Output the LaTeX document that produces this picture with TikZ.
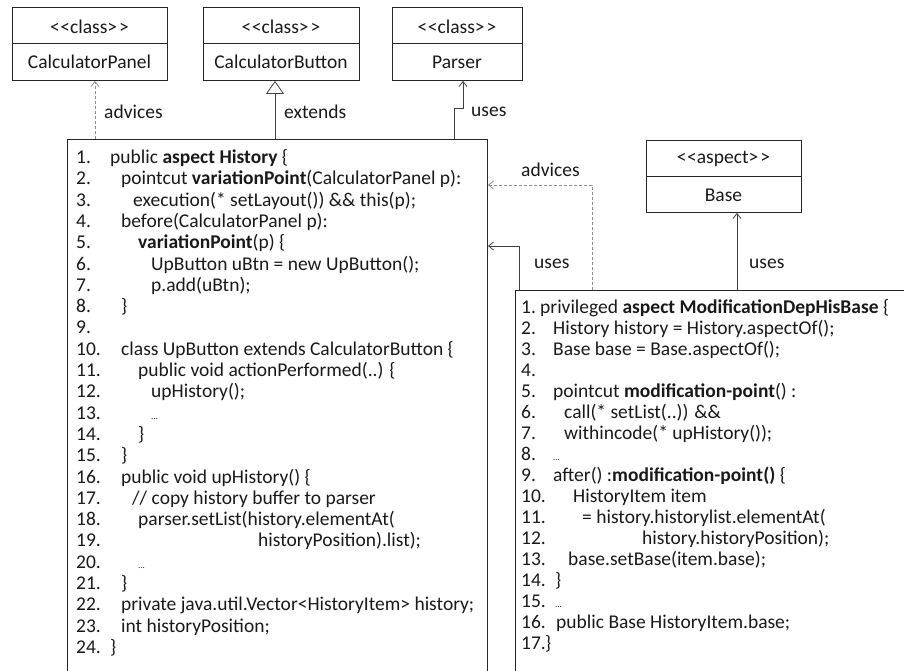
\documentclass[tikz,border=0pt]{standalone}
\usepackage{fontspec}
\setmainfont{Carlito}
\usetikzlibrary{arrows.meta}
\newcommand\cdL[3]{\node[code] (lt#1) at (#2,{163.5+(#1-1)*21.3}) {#3};}
\newcommand\cdLn[1]{\node[code] (ln#1) at (76,{163.5+(#1-1)*21.3}) {#1.};}
\newcommand\cdR[3]{\node[code] (rt#1) at (#2,{313.5+(#1-1)*21}) {#3};}
\newcommand\cdRn[1]{\node[code] (rn#1) at (521,{313.5+(#1-1)*21}) {#1.};}
\newcommand\stereo[1]{<\kern0.5pt<#1>\kern2pt>}
\begin{document}
\begin{tikzpicture}[x=1pt,y=-1pt,
  every node/.style={font=\fontsize{19.5}{22}\selectfont, inner sep=0pt, text=black!90},
  code/.style={anchor=base west},
  box/.style={draw=black!85, line width=0.9pt},
  dep/.style={draw=black!45, dashed, dash pattern=on 3pt off 2pt, line width=0.8pt, -{Straight Barb[length=5pt,width=8pt]}},
  use/.style={draw=black!75, line width=0.8pt, -{Straight Barb[length=5pt,width=8pt]}},
  ext/.style={draw=black!75, line width=0.8pt, -{Triangle[open,length=13pt,width=18pt]}},
  cls/.style={box, anchor=north west, minimum height=73pt},
  ]
\useasboundingbox (0,0) rectangle (904,670);
% class boxes
\node[cls, minimum width=155pt] (cp) at (12,7) {};
\draw[box] (12,43) -- (167,43);
\node (cpst) at (89.5,27) {\stereo{class}};
\node (cpn) at (89.5,62) {CalculatorPanel};
\node[cls, minimum width=156pt] (cb) at (203,7) {};
\draw[box] (203,43) -- (359,43);
\node (cbst) at (281,27) {\stereo{class}};
\node (cbn) at (281,62) {CalculatorButton};
\node[cls, minimum width=130pt] (pa) at (392,7) {};
\draw[box] (392,43) -- (522,43);
\node (past) at (457,27) {\stereo{class}};
\node (pan) at (457,62) {Parser};
% aspect Base
\node[box, anchor=north west, minimum width=155pt, minimum height=72pt] (base) at (646,140) {};
\draw[box] (646,176) -- (801,176);
\node (basest) at (723.5,159) {\stereo{aspect}};
\node (basen) at (723.5,195) {Base};
% code boxes
\node[box, anchor=north west, minimum width=420pt, minimum height=600pt] (hist) at (67,139) {};
\node[box, anchor=north west, minimum width=420pt, minimum height=420pt] (mod) at (515,290) {};
% connectors
\coordinate (x95) at (95,0);
\coordinate (x275) at (275,0);
\coordinate (j1) at (454,108);
\coordinate (j2) at (463,108);
\coordinate (a1) at (592,185);
\coordinate (u1) at (519,246);
\coordinate (b1) at (737,0);
\draw[dep] (hist.north -| x95) -- (cp.south -| x95);
\draw[ext] (hist.north -| x275) -- (cb.south -| x275);
\draw[use] (hist.north -| j1) -- (j1) -- (j2) -- (pa.south -| j2);
\draw[dep] (mod.north -| a1) -- (a1) -- (hist.east |- a1);
\draw[use] (mod.north -| u1) -- (u1) -- (hist.east |- u1);
\draw[use] (mod.north -| b1) -- (base.south -| b1);
% labels
\node[anchor=west] (l1) at (104,112) {advices};
\node[anchor=west] (l2) at (284,112) {extends};
\node[anchor=west] (l3) at (471,112) {uses};
\node[anchor=west] (l4) at (521,170) {advices};
\node[anchor=west] (l5) at (534,264) {uses};
\node[anchor=west] (l6) at (749,264) {uses};
% left code
\cdLn{1}\cdL{1}{110}{public \textbf{aspect History} \{}
\cdLn{2}\cdL{2}{121}{pointcut \textbf{variationPoint}(CalculatorPanel p):}
\cdLn{3}\cdL{3}{133}{execution(* setLayout()) \&\& this(p);}
\cdLn{4}\cdL{4}{121}{before(CalculatorPanel p):}
\cdLn{5}\cdL{5}{138}{\textbf{variationPoint}(p) \{}
\cdLn{6}\cdL{6}{151}{UpButton uBtn = new UpButton();}
\cdLn{7}\cdL{7}{151}{p.add(uBtn);}
\cdLn{8}\cdL{8}{121}{\}}
\cdLn{9}
\cdLn{10}\cdL{10}{121}{class UpButton extends CalculatorButton \{}
\cdLn{11}\cdL{11}{138}{public void actionPerformed(..) \{}
\cdLn{12}\cdL{12}{151}{upHistory();}
\cdLn{13}\cdL{13}{151}{\small ...}
\cdLn{14}\cdL{14}{138}{\}}
\cdLn{15}\cdL{15}{121}{\}}
\cdLn{16}\cdL{16}{121}{public void upHistory() \{}
\cdLn{17}\cdL{17}{132}{// copy history buffer to parser}
\cdLn{18}\cdL{18}{138}{parser.setList(history.elementAt(}
\cdLn{19}\cdL{19}{258}{historyPosition).list);}
\cdLn{20}\cdL{20}{138}{\small ...}
\cdLn{21}\cdL{21}{121}{\}}
\cdLn{22}\cdL{22}{121}{private java.util.Vector<HistoryItem> history;}
\cdLn{23}\cdL{23}{121}{int historyPosition;}
\cdLn{24}\cdL{24}{110}{\}}
% right code
\cdRn{1}\cdR{1}{540}{privileged \textbf{aspect ModificationDepHisBase} \{}
\cdRn{2}\cdR{2}{553}{History history = History.aspectOf();}
\cdRn{3}\cdR{3}{553}{Base base = Base.aspectOf();}
\cdRn{4}
\cdRn{5}\cdR{5}{553}{pointcut \textbf{modification-point}() :}
\cdRn{6}\cdR{6}{564}{call(* setList(..)) \&\&}
\cdRn{7}\cdR{7}{564}{withincode(* upHistory());}
\cdRn{8}\cdR{8}{553}{\small ...}
\cdRn{9}\cdR{9}{553}{after() :\textbf{modification-point()} \{}
\cdRn{10}\cdR{10}{573}{HistoryItem item}
\cdRn{11}\cdR{11}{582}{= history.historylist.elementAt(}
\cdRn{12}\cdR{12}{642}{history.historyPosition);}
\cdRn{13}\cdR{13}{568}{base.setBase(item.base);}
\cdRn{14}\cdR{14}{555}{\}}
\cdRn{15}\cdR{15}{555}{\small ...}
\cdRn{16}\cdR{16}{556}{public Base HistoryItem.base;}
\cdRn{17}\cdR{17}{545}{\}}
\end{tikzpicture}
\end{document}
